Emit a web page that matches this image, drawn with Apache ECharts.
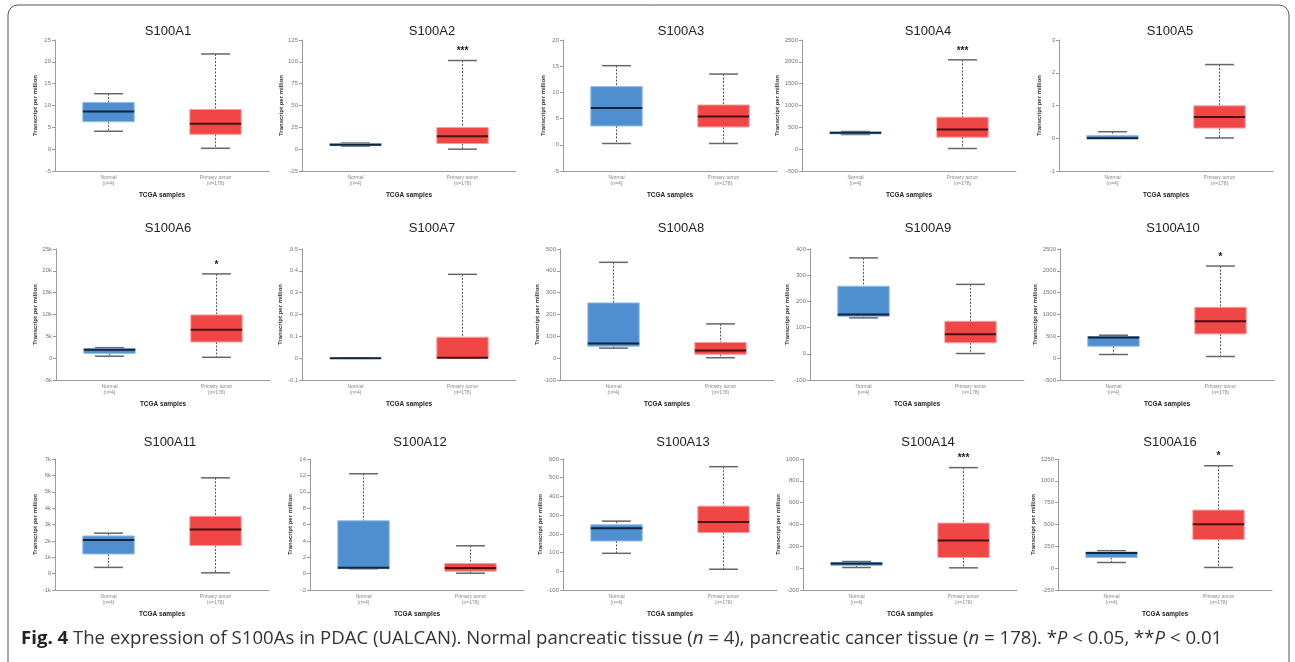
<!DOCTYPE html>
<html>
<head>
<meta charset="utf-8">
<script src="https://cdn.jsdelivr.net/npm/echarts@6/dist/echarts.min.js"></script>
<style>
    html, body { margin: 0; padding: 0; background: #fff; }
    #chart { width: 1295px; height: 662px; }
</style>
</head>
<body>
<div id="chart"></div>
<script>
// gene panels, left to right, top to bottom
const genes = ['S100A1', 'S100A2', 'S100A3', 'S100A4', 'S100A5',
    'S100A6', 'S100A7', 'S100A8', 'S100A9', 'S100A10',
    'S100A11', 'S100A12', 'S100A13', 'S100A14', 'S100A16']
const groups = ['Normal\n(n=4)', 'Primary tumor\n(n=178)']

// box values: [min, Q1, median, Q3, max]
const normalBox = [
    [4.1, 6.3, 8.6, 10.7, 12.7],
    [3.5, 4.0, 5.2, 6.5, 7.0],
    [0.25, 3.6, 7.0, 11.1, 15.1],
    [336, 351, 374, 390, 405],
    [0, 0, 0, 0.08, 0.2],
    [450, 1100, 1900, 2200, 2400],
    [0, 0, 0, 0, 0],
    [46, 55, 67, 253, 439],
    [137, 143, 150, 258, 366],
    [84, 274, 472, 495, 525],
    [380, 1200, 2050, 2300, 2470],
    [0.6, 0.6, 0.73, 6.45, 12.2],
    [96, 162, 230, 248, 268],
    [6, 24, 43, 52, 61],
    [65, 123, 173, 185, 200]
]
const tumorBox = [
    [0.2, 3.4, 5.8, 9.1, 21.8],
    [0, 6.5, 14.9, 24.8, 101.5],
    [0.25, 3.4, 5.4, 7.6, 13.5],
    [15, 275, 450, 733, 2046],
    [0.01, 0.31, 0.65, 0.99, 2.25],
    [200, 3700, 6500, 9900, 19300],
    [0, 0, 0.0015, 0.096, 0.384],
    [2, 18, 35, 72, 157],
    [1, 42, 75, 124, 265],
    [38, 556, 845, 1165, 2110],
    [50, 1720, 2700, 3500, 5850],
    [0.05, 0.3, 0.7, 1.25, 3.4],
    [11, 207, 264, 348, 559],
    [3, 98, 254, 413, 921],
    [8, 327, 504, 665, 1173]
]
const stars = ['', '***', '', '***', '', '*', '', '', '', '*', '', '', '', '***', '*']

// y axis ticks
const yMin = [-5, -25, -5, -500, -1, -5000, -0.1, -100, -100, -500, -1000, -2, -100, -200, -250]
const yMax = [25, 125, 20, 2500, 3, 25000, 0.5, 500, 400, 2500, 7000, 14, 600, 1000, 1250]
const yStep = [5, 25, 5, 500, 1, 5000, 0.1, 100, 100, 500, 1000, 2, 100, 200, 250]
const yInK = [false, false, false, false, false, true, false, false, false, false, true, false, false, false, false]

const caption = '{b|Fig. 4} The expression of S100As in PDAC (UALCAN). Normal pancreatic tissue ({i|n} = 4), pancreatic cancer tissue ({i|n} = 178). *{i|P} < 0.05, **{i|P} < 0.01'

// layout of the 5 x 3 panels
const rowTop = [40, 249, 459]
const titleTop = [20, 217, 431]
const axisLeft = [55, 302, 563, 802, 1059, 56, 302, 560, 810, 1060, 55, 310, 563, 803, 1058]
const titleCenter = [163, 427, 676, 923, 1165, 163, 427, 676, 923, 1168, 165, 415, 678, 923, 1165]
const gridW = 214
const gridH = 131

const boxColors = [
    { fill: '#4f8fd0', border: '#8ebbe8', median: '#10243a' },
    { fill: '#f04646', border: '#f8a0a0', median: '#4a1010' }
]

function renderBox(panel) {
    return function (params, api) {
        const idx = api.value(0)
        const c = boxColors[params.dataIndex]
        const band = api.size([1, 0])[0]
        const bw = band * 0.48
        const cw = band * 0.27
        const pMin = api.coord([idx, api.value(1)])
        const pQ1 = api.coord([idx, api.value(2)])
        const pMed = api.coord([idx, api.value(3)])
        const pQ3 = api.coord([idx, api.value(4)])
        const pMax = api.coord([idx, api.value(5)])
        const x = pMed[0]
        const children = [
            {
                type: 'line',
                shape: { x1: x, y1: pMax[1], x2: x, y2: pQ3[1] },
                style: { stroke: '#555', lineWidth: 1, lineDash: [2, 1.5] }
            },
            {
                type: 'line',
                shape: { x1: x, y1: pQ1[1], x2: x, y2: pMin[1] },
                style: { stroke: '#555', lineWidth: 1, lineDash: [2, 1.5] }
            },
            {
                type: 'line',
                shape: { x1: x - cw / 2, y1: pMax[1], x2: x + cw / 2, y2: pMax[1] },
                style: { stroke: '#666', lineWidth: 1.5 }
            },
            {
                type: 'line',
                shape: { x1: x - cw / 2, y1: pMin[1], x2: x + cw / 2, y2: pMin[1] },
                style: { stroke: '#666', lineWidth: 1.5 }
            },
            {
                type: 'rect',
                shape: { x: x - bw / 2, y: pQ3[1], width: bw, height: pQ1[1] - pQ3[1] },
                style: { fill: c.fill, stroke: c.border, lineWidth: 1 }
            },
            {
                type: 'line',
                shape: { x1: x - bw / 2, y1: pMed[1], x2: x + bw / 2, y2: pMed[1] },
                style: { stroke: c.median, lineWidth: 2 }
            }
        ]
        if (params.dataIndex === 1 && stars[panel]) {
            children.push({
                type: 'text',
                x: x,
                y: pMax[1] - 4,
                style: {
                    text: stars[panel],
                    fill: '#222',
                    font: 'bold 10px "Liberation Sans", Arial, sans-serif',
                    align: 'center',
                    verticalAlign: 'bottom'
                }
            })
        }
        return { type: 'group', children: children }
    }
}

function tickLabel(inK) {
    return function (v) {
        if (inK) return v === 0 ? '0' : (v / 1000) + 'k'
        return String(Math.round(v * 10) / 10)
    }
}

const grid = [], xAxis = [], yAxis = [], series = [], title = []
genes.forEach((gene, i) => {
    const row = Math.floor(i / 5)
    grid.push({ left: axisLeft[i], top: rowTop[row], width: gridW, height: gridH })
    title.push({
        text: gene,
        left: titleCenter[i],
        top: titleTop[row],
        textAlign: 'center',
        textStyle: { fontSize: 13, fontWeight: 'normal', color: '#222', fontFamily: '"Liberation Sans", Arial, sans-serif' }
    })
    xAxis.push({
        gridIndex: i,
        type: 'category',
        data: groups,
        name: 'TCGA samples',
        nameLocation: 'middle',
        nameGap: 21,
        nameTextStyle: { fontSize: 6.5, fontWeight: 'bold', color: '#222' },
        axisLine: { onZero: false, lineStyle: { color: '#9a9a9a' } },
        axisTick: { show: false },
        axisLabel: { interval: 0, fontSize: 5, lineHeight: 6, color: '#888', margin: 4 },
        splitLine: { show: false }
    })
    yAxis.push({
        gridIndex: i,
        type: 'value',
        min: yMin[i],
        max: yMax[i],
        interval: yStep[i],
        name: 'Transcript per million',
        nameLocation: 'middle',
        nameGap: 17,
        nameTextStyle: { fontSize: 6, fontWeight: 'bold', color: '#333' },
        axisLine: { show: true, lineStyle: { color: '#9a9a9a' } },
        axisTick: { show: true, length: 3, lineStyle: { color: '#9a9a9a' } },
        axisLabel: { fontSize: 6, color: '#777', margin: 4, formatter: tickLabel(yInK[i]) },
        splitLine: { show: false }
    })
    series.push({
        type: 'custom',
        xAxisIndex: i,
        yAxisIndex: i,
        renderItem: renderBox(i),
        encode: { x: 0, y: [1, 2, 3, 4, 5] },
        data: [[0].concat(normalBox[i]), [1].concat(tumorBox[i])],
        silent: true
    })
})

const chart = echarts.init(document.getElementById('chart'))
chart.setOption({
    animation: false,
    textStyle: { fontFamily: '"Liberation Sans", Arial, sans-serif' },
    title: title,
    grid: grid,
    xAxis: xAxis,
    yAxis: yAxis,
    series: series,
    graphic: [
        {
            type: 'rect',
            shape: { x: 8, y: 5, width: 1281, height: 680, r: 10 },
            style: { fill: 'none', stroke: '#555', lineWidth: 1 },
            silent: true
        },
        {
            type: 'text',
            left: 21,
            top: 629,
            style: {
                text: caption,
                fill: '#333',
                font: '18.6px "Open Sans", sans-serif',
                rich: {
                    b: { fontWeight: 'bold', fontSize: 18.6, fontFamily: '"Open Sans", sans-serif', fill: '#222' },
                    i: { fontStyle: 'italic', fontSize: 18.6, fontFamily: '"Open Sans", sans-serif', fill: '#333' }
                }
            }
        }
    ]
})
</script>
</body>
</html>
